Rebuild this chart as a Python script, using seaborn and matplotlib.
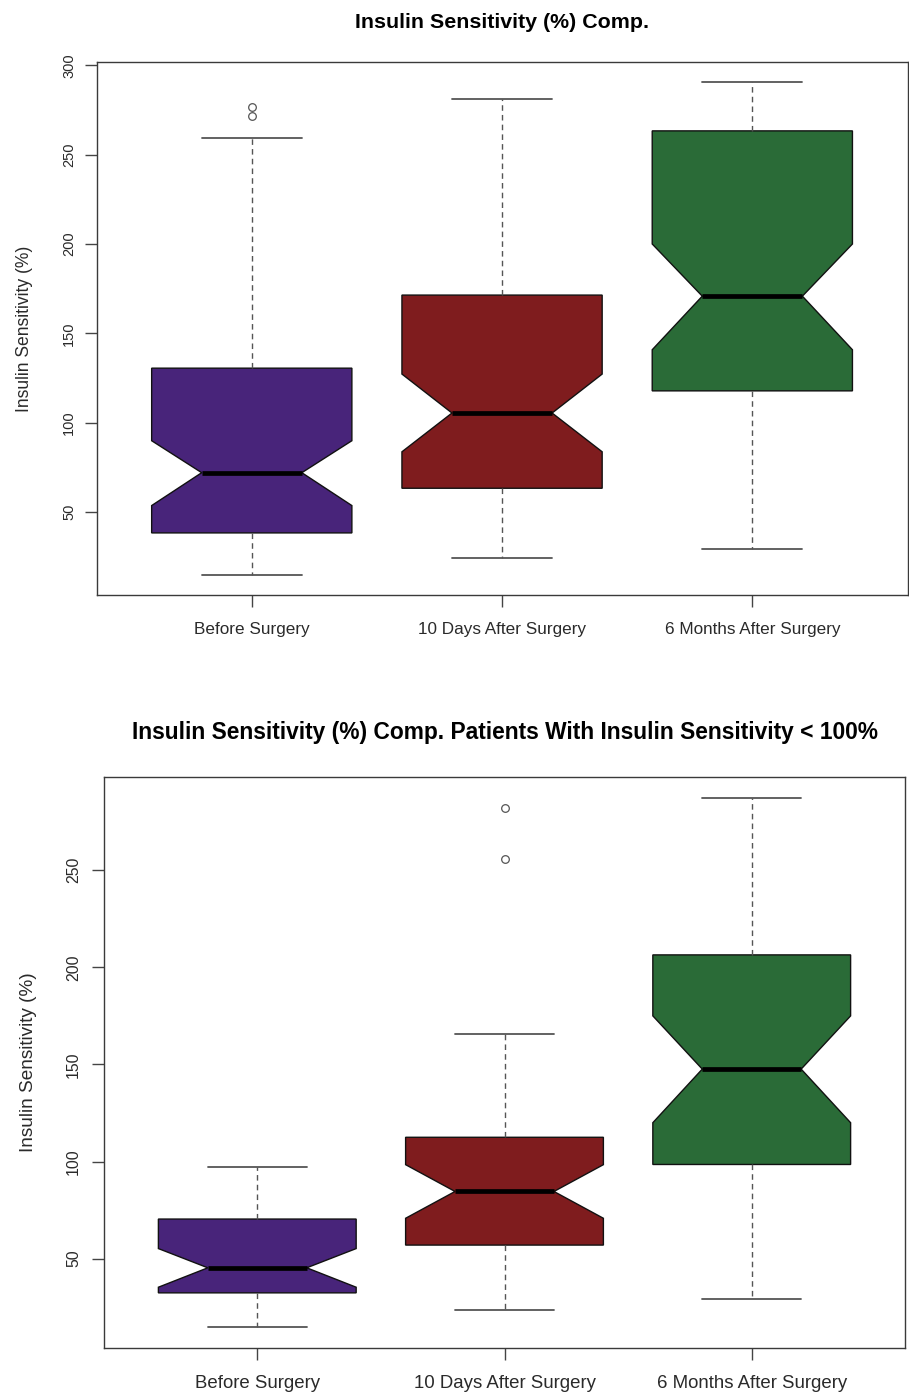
import matplotlib
matplotlib.use("Agg")
import matplotlib.pyplot as plt
from matplotlib import font_manager
import pandas as pd
import seaborn as sns

# ---- data -------------------------------------------------------------
groups = ["Before Surgery", "10 Days After Surgery", "6 Months After Surgery"]
box_colors = ["#48247A", "#7F1C1E", "#2A6B37"]

# All patients
all_whislo = [14.6, 24.2, 29.1]
all_q1 = [38.3, 63.3, 117.8]
all_med = [72.0, 105.4, 170.8]
all_q3 = [130.5, 171.4, 263.3]
all_whishi = [259.3, 281.0, 290.8]
all_notch_lo = [53.6, 83.7, 140.8]
all_notch_hi = [89.9, 127.2, 200.0]
all_fliers = [[271.5, 276.9], [], []]
all_yticks = [50, 100, 150, 200, 250, 300]

# Patients with insulin sensitivity < 100% before surgery
low_whislo = [14.9, 23.6, 29.2]
low_q1 = [32.4, 57.0, 98.5]
low_med = [45.3, 84.6, 147.6]
low_q3 = [70.4, 112.5, 206.4]
low_whishi = [97.2, 165.6, 287.1]
low_notch_lo = [35.3, 70.8, 120.0]
low_notch_hi = [55.2, 98.4, 175.0]
low_fliers = [[], [256.0, 282.0], []]
low_yticks = [50, 100, 150, 200, 250]

title_all = "Insulin Sensitivity (%) Comp."
title_low = "Insulin Sensitivity (%) Comp. Patients With Insulin Sensitivity < 100%"
y_label = "Insulin Sensitivity (%)"

# ---- style ------------------------------------------------------------
sns.set_theme(style="white")
installed = {f.name for f in font_manager.fontManager.ttflist}
if "Liberation Sans Narrow" in installed:
    plt.rcParams["font.family"] = ["Liberation Sans Narrow", "DejaVu Sans"]
    fs = 1.0
else:
    plt.rcParams["font.family"] = ["Liberation Sans", "DejaVu Sans"]
    fs = 0.82

palette = sns.color_palette(box_colors)
W, H = 909, 1396


def summary_table(whislo, q1, med, q3, whishi, nlo, nhi, fliers):
    return pd.DataFrame({
        "label": groups, "whislo": whislo, "q1": q1, "med": med,
        "q3": q3, "whishi": whishi, "cilo": nlo, "cihi": nhi,
        "fliers": fliers,
    })


def draw_panel(ax, df, yticks, title, sizes, pads, ylab_x):
    title_fs, xt_fs, yt_fs, yl_fs = [s * fs for s in sizes]
    title_pad, xt_pad, yt_pad = pads
    stats = df.to_dict("records")
    arts = ax.bxp(
        stats, positions=range(len(stats)), widths=0.8, capwidths=0.4,
        shownotches=True, patch_artist=True, manage_ticks=False,
        boxprops=dict(edgecolor="#111111", linewidth=1.0),
        medianprops=dict(color="black", linewidth=3.4, solid_capstyle="butt"),
        whiskerprops=dict(color="#555555", linewidth=1.0, linestyle=(0, (4, 3))),
        capprops=dict(color="#555555", linewidth=1.3),
        flierprops=dict(marker="o", markersize=5.5, markerfacecolor="none",
                        markeredgecolor="#555555", markeredgewidth=0.9),
    )
    for patch, c in zip(arts["boxes"], palette):
        patch.set_facecolor(c)

    vals = list(df["whislo"]) + list(df["whishi"]) + [v for f in df["fliers"] for v in f]
    lo, hi = min(vals), max(vals)
    pad = 0.04 * (hi - lo)
    ax.set_ylim(lo - pad, hi + pad)
    ax.set_xlim(-0.62, len(stats) - 1 + 0.62)

    ax.set_xticks(range(len(stats)), df["label"])
    ax.set_yticks(yticks)
    ax.tick_params(axis="both", direction="out", length=8.5, width=1.0,
                   color="#444444", labelcolor="#2a2a2a",
                   bottom=True, left=True, top=False, right=False)
    ax.tick_params(axis="x", labelsize=xt_fs, pad=xt_pad)
    ax.tick_params(axis="y", labelsize=yt_fs, pad=yt_pad)
    for t in ax.get_yticklabels():
        t.set_rotation(90)
        t.set_va("center")
        t.set_ha("right")

    for s in ax.spines.values():
        s.set_visible(True)
        s.set_color("#3a3a3a")
        s.set_linewidth(1.0)

    ax.set_title(title, fontsize=title_fs, fontweight="bold", color="black", pad=title_pad)
    ax.set_ylabel(y_label, fontsize=yl_fs, color="#2a2a2a")
    ax.yaxis.set_label_coords(ylab_x, 0.5)


fig = plt.figure(figsize=(W / 100, H / 100), dpi=100)

# top panel frame: x 96.6..907.5, y 62..595 (pixels from the top)
ax1 = fig.add_axes([96.6 / W, 1 - 595 / H, (907.5 - 96.6) / W, (595 - 62) / H])
# bottom panel frame: x 104..905, y 777..1348
ax2 = fig.add_axes([104 / W, 1 - 1348 / H, (905 - 104) / W, (1348 - 777) / H])

df_all = summary_table(all_whislo, all_q1, all_med, all_q3, all_whishi,
                       all_notch_lo, all_notch_hi, all_fliers)
df_low = summary_table(low_whislo, low_q1, low_med, low_q3, low_whishi,
                       low_notch_lo, low_notch_hi, low_fliers)

draw_panel(ax1, df_all, all_yticks, title_all,
           sizes=(18.8, 15.0, 12.8, 15.4), pads=(24.5, 11.0, 6.2), ylab_x=-0.0787)
draw_panel(ax2, df_low, low_yticks, title_low,
           sizes=(20.0, 16.4, 14.0, 16.7), pads=(27.4, 11.2, 8.0), ylab_x=-0.0839)

fig.savefig("out.png", dpi=100, facecolor="white")
